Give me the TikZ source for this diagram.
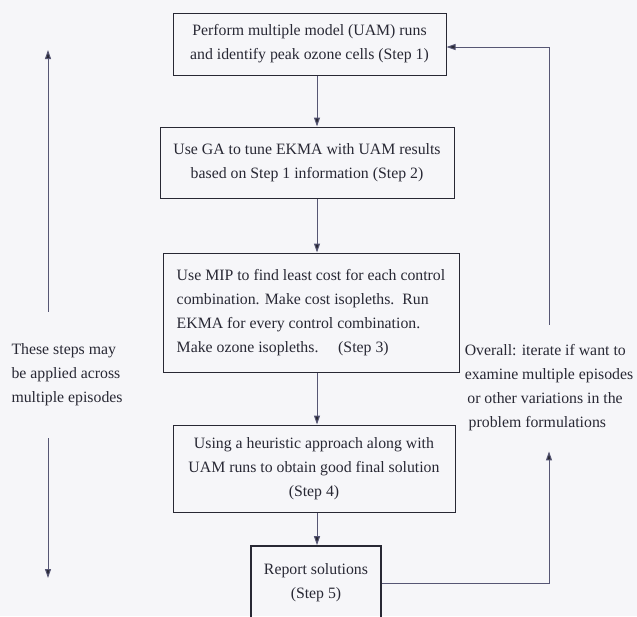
\documentclass[tikz,border=0pt]{standalone}
\usepackage{fontspec}
\setmainfont{Liberation Serif}
\usepackage{xcolor}
\usetikzlibrary{arrows.meta}
\definecolor{paper}{RGB}{246,246,249}
\definecolor{ink}{RGB}{40,40,52}
\definecolor{wire}{RGB}{86,86,116}
\tikzset{
  steptext/.style={text=ink, font=\fontsize{15.8}{24}\selectfont},
  stepbox/.style={steptext, draw=ink, line width=1pt, align=center}
}

\begin{document}
\begin{tikzpicture}[x=1pt,y=-1pt]
\fill[paper] (0,0) rectangle (637,616);
\useasboundingbox (0,0) rectangle (637,616);
\begin{scope}[every node/.style={stepbox}]
    \node[minimum width=273pt, minimum height=62pt] (S1) at (309.5,44)
      {Perform multiple model (UAM) runs\\and identify peak ozone cells (Step 1)};
    \node[minimum width=294pt, minimum height=71pt] (S2) at (307,162.5)
      {Use GA to tune EKMA with UAM results\\based on Step 1 information (Step 2)};
    \node[minimum width=296pt, minimum height=119pt, align=left] (S3) at (311,312.5)
      {Use MIP to find least cost for each control\\
       combination. Make cost isopleths.\ \ Run\\
       EKMA for every control combination.\\
       Make ozone isopleths.\quad\ (Step 3)};
    \node[minimum width=282pt, minimum height=87pt] (S4) at (314,468.5)
      {Using a heuristic approach along with\\UAM runs to obtain good final solution\\(Step 4)};
    \node[minimum width=130pt, minimum height=74pt, line width=1.6pt] (S5) at (316,583)
      {Report solutions\\(Step 5)};
\end{scope}
\node[steptext, align=left, anchor=west, inner ysep=32pt] (L) at (8,375)
  {These steps may\\be applied across\\multiple episodes};
\node[steptext, align=left, inner ysep=20pt] (R) at (549,388)
  {Overall: iterate if want to\\examine multiple episodes\\\,or other variations in the\\\ problem formulations};
\coordinate (X) at (317,0);
\coordinate (Lup) at (48,50);
\coordinate (Ldn) at (48,578);
\begin{scope}[>={Triangle[length=9pt,width=6pt,fill=ink]},
              every edge/.style={draw=wire, line width=1pt}]
    \path [->] (S1.south -| X) edge (S2.north -| X);
    \path [->] (S2.south -| X) edge (S3.north -| X);
    \path [->] (S3.south -| X) edge (S4.north -| X);
    \path [->] (S4.south -| X) edge (S5.north -| X);
    \path [->] (L.north -| Lup) edge (Lup);
    \path [->] (L.south -| Ldn) edge (Ldn);
    \draw [->, draw=wire, line width=1pt] (S5.east) -| (R.south);
    \draw [->, draw=wire, line width=1pt] (R.north) |- ([yshift=-3pt]S1.east);
\end{scope}
\end{tikzpicture}
\end{document}
